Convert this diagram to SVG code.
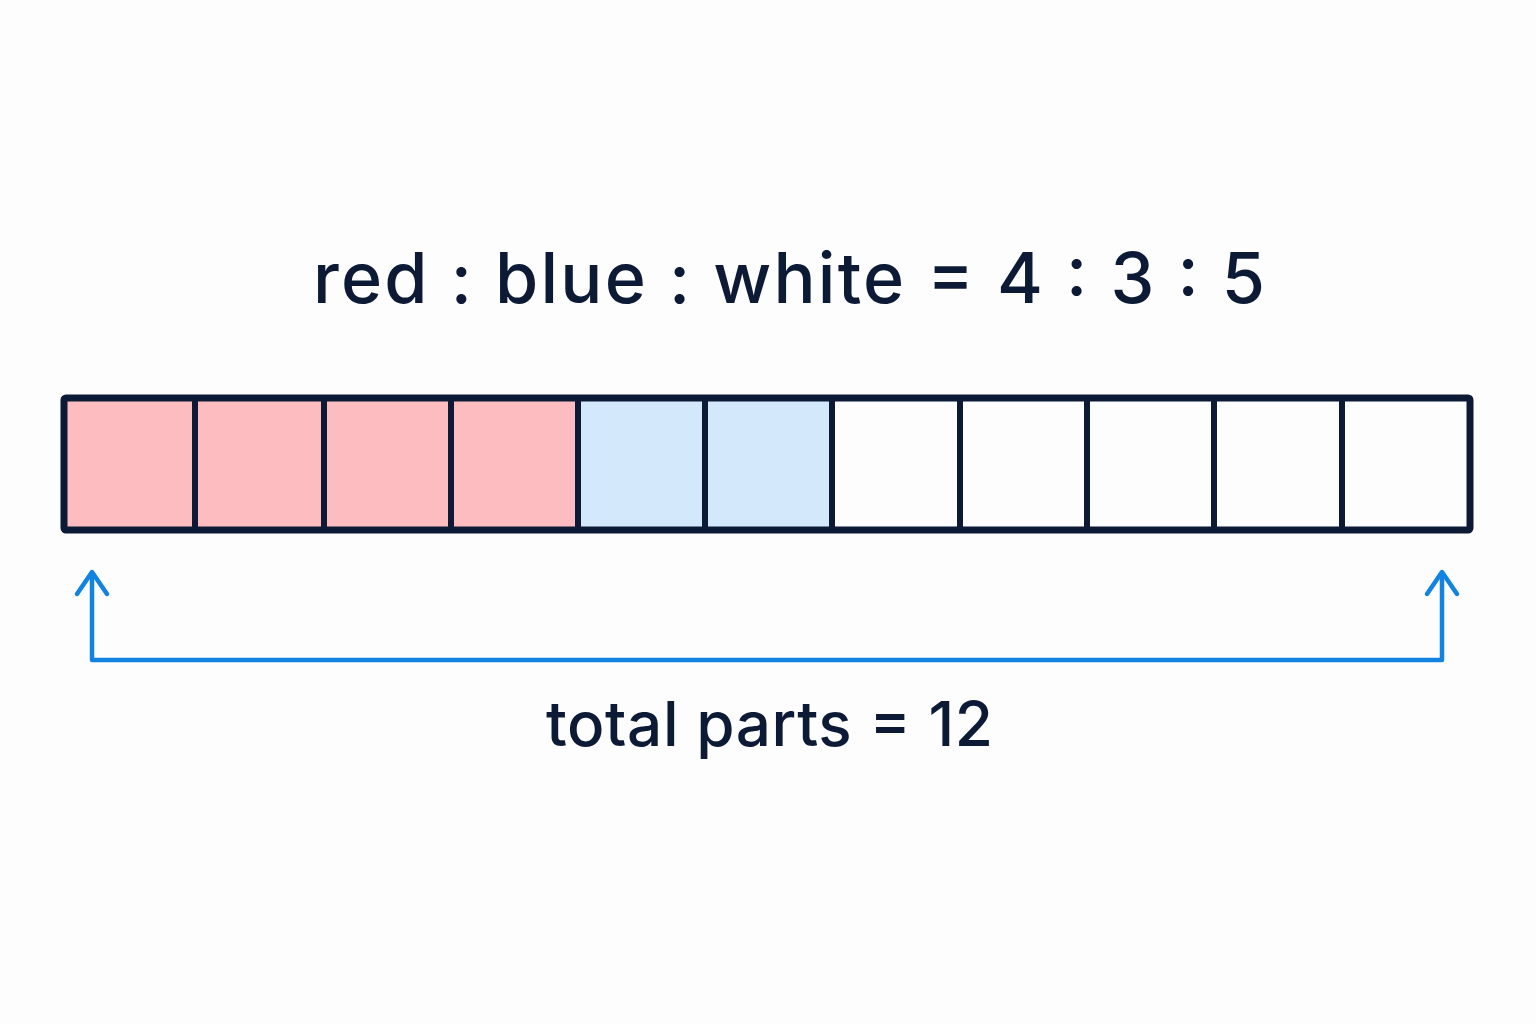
<svg xmlns="http://www.w3.org/2000/svg" width="1536" height="1024" viewBox="0 0 1536 1024">
<style>
.t{font-family:Inter,"Liberation Sans",Arial,sans-serif;fill:#0c1a36;font-weight:500}
.red{fill:#fdbcbf}
.blue{fill:#d4e8fb}
.white{fill:#fdfdfd}
.div{stroke:#0c1a36;stroke-width:6}
.conn{fill:none;stroke:#1283e0;stroke-width:4.5;stroke-linecap:round;stroke-linejoin:round}
</style>
<rect width="1536" height="1024" fill="#fdfdfd"/>
<g id="title"><text class="t" x="313" y="303" font-size="70" textLength="952" lengthAdjust="spacing">red : blue : white = 4 : 3 : 5</text></g>
<g id="bar">
<rect class="red" x="64" y="398" width="131" height="132"/>
<rect class="red" x="195" y="398" width="129" height="132"/>
<rect class="red" x="324" y="398" width="127" height="132"/>
<rect class="red" x="451" y="398" width="127" height="132"/>
<rect class="blue" x="578" y="398" width="127" height="132"/>
<rect class="blue" x="705" y="398" width="127" height="132"/>
<rect class="white" x="832" y="398" width="638" height="132"/>
<g class="div">
<line x1="195" y1="398" x2="195" y2="530"/>
<line x1="324" y1="398" x2="324" y2="530"/>
<line x1="451" y1="398" x2="451" y2="530"/>
<line x1="578" y1="398" x2="578" y2="530"/>
<line x1="705" y1="398" x2="705" y2="530"/>
<line x1="832" y1="398" x2="832" y2="530"/>
<line x1="960" y1="398" x2="960" y2="530"/>
<line x1="1087" y1="398" x2="1087" y2="530"/>
<line x1="1214" y1="398" x2="1214" y2="530"/>
<line x1="1342" y1="398" x2="1342" y2="530"/>
</g>
<rect x="64" y="398" width="1406" height="132" fill="none" stroke="#0c1a36" stroke-width="7" rx="2"/>
</g>
<g id="connectors">
<path class="conn" d="M92,574 V660 H1442 V574"/>
<path class="conn" d="M77,594 L92,572 L107,594"/>
<path class="conn" d="M1427,594 L1442,572 L1457,594"/>
</g>
<g id="label"><text class="t" x="546" y="746" font-size="62" textLength="447" lengthAdjust="spacing">total parts = 12</text></g>
</svg>
